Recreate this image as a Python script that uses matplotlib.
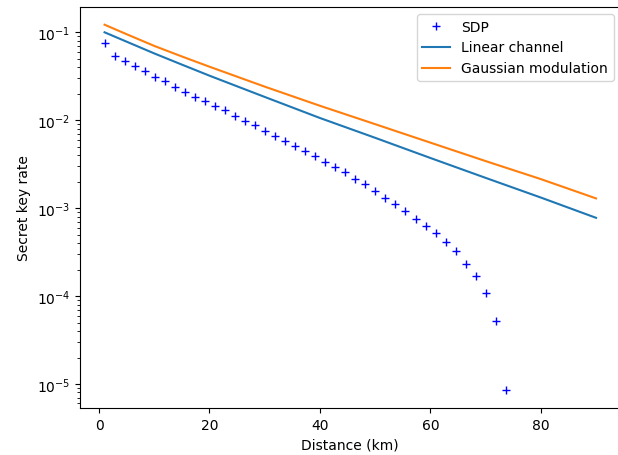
import matplotlib
matplotlib.use("Agg")
import matplotlib.pyplot as plt

# SDP points (distance km, secret key rate)
sdp_x = [1.00, 2.82, 4.63, 6.45, 8.27, 10.08, 11.90, 13.71, 15.53, 17.35,
         19.16, 20.98, 22.80, 24.61, 26.43, 28.24, 30.06, 31.88, 33.69, 35.51,
         37.33, 39.14, 40.96, 42.78, 44.59, 46.41, 48.22, 50.04, 51.86, 53.67,
         55.49, 57.31, 59.12, 60.94, 62.76, 64.57, 66.39, 68.20, 70.02, 71.84,
         73.65]
sdp_y = [0.0750, 0.0542, 0.0475, 0.0411, 0.0361, 0.0308, 0.0277, 0.0237, 0.0211, 0.0185,
         0.0167, 0.0145, 0.0129, 0.0113, 0.00982, 0.00871, 0.00750, 0.00668, 0.00575, 0.00513,
         0.00442, 0.00389, 0.00335, 0.00290, 0.00255, 0.00213, 0.00186, 0.00155, 0.00132, 0.00111,
         0.000933, 0.000759, 0.000619, 0.000515, 0.000407, 0.000327, 0.000231, 0.000170, 0.000107, 5.25e-5,
         8.6e-6]

# Bound curves
line_x = [1, 5, 10, 15, 20, 30, 40, 50, 60, 70, 80, 90]
linear_y = [0.100, 0.0782, 0.0575, 0.0429, 0.0321, 0.0184, 0.0106, 0.00631, 0.00372, 0.00221, 0.00132, 0.000776]
gauss_y = [0.122, 0.0951, 0.0700, 0.0531, 0.0406, 0.0241, 0.0146, 0.00902, 0.00556, 0.00343, 0.00214, 0.00129]

fig = plt.figure(figsize=(6.18, 4.56), dpi=100)
ax = fig.add_axes([80 / 618, 47 / 456, 540.6 / 618, 401 / 456])
ax.plot(sdp_x, sdp_y, '+', color='blue', label='SDP')
ax.plot(line_x, linear_y, color='C0', label='Linear channel')
ax.plot(line_x, gauss_y, color='C1', label='Gaussian modulation')
ax.set_yscale('log')
ax.set_xlim(-3.45, 94.45)
ax.set_ylim(5.33e-6, 0.194)
ax.spines['right'].set_visible(False)
ax.set_xlabel('Distance (km)')
ax.set_ylabel('Secret key rate')
ax.legend(loc='upper right')
fig.savefig('out.png', dpi=100)
